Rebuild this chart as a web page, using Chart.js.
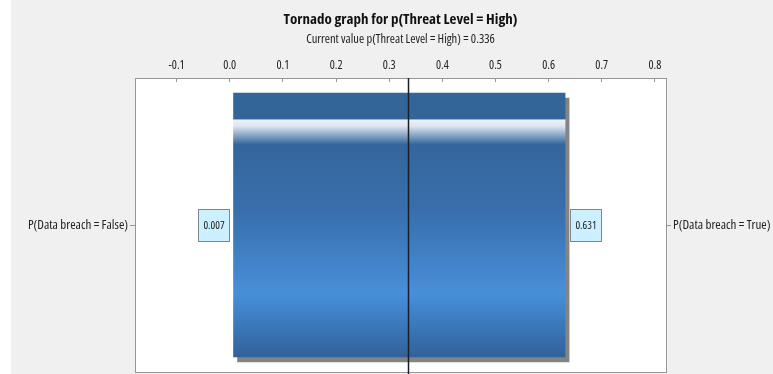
<!DOCTYPE html>
<html>
<head>
<meta charset="utf-8">
<script src="https://cdn.jsdelivr.net/npm/chart.js@4.4.1/dist/chart.umd.min.js"></script>
<style>
  html, body { margin: 0; padding: 0; background: #ffffff; }
  #wrap { position: absolute; left: 11px; top: 0; width: 762px; height: 374px; background: #f0f0f0; }
</style>
</head>
<body>
<div id="wrap"><canvas id="tornado" width="762" height="374"></canvas></div>
<script>
  "use strict";

  // Tornado data
  const categories = ["P(Data breach = False)"];
  const oppositeCategories = ["P(Data breach = True)"];
  const lowValues = [0.007];
  const highValues = [0.631];
  const currentValue = 0.336;
  const xTicks = [-0.1, 0.0, 0.1, 0.2, 0.3, 0.4, 0.5, 0.6, 0.7, 0.8];

  // condensed Open Sans via the CSS font shorthand (weight slot)
  const FAMILY = '"Open Sans", "Liberation Sans", sans-serif';
  Chart.defaults.font.family = FAMILY;
  Chart.defaults.font.weight = "condensed";
  Chart.defaults.color = "#222";

  const BAR_HEIGHT = 264;
  const GRAY = "rgb(150,150,150)";

  function barGradient(context) {
    const chart = context.chart;
    const yScale = chart.scales.y;
    if (!chart.chartArea || !yScale) {
      return "#336699";
    }
    const mid = yScale.getPixelForValue(context.dataIndex || 0);
    const top = mid - BAR_HEIGHT / 2;
    const g = chart.ctx.createLinearGradient(0, top, 0, top + BAR_HEIGHT);
    g.addColorStop(0, "rgb(52,101,152)");
    g.addColorStop(0.097, "rgb(52,101,152)");
    g.addColorStop(0.103, "rgb(236,241,247)");
    g.addColorStop(0.125, "rgb(222,230,240)");
    g.addColorStop(0.195, "rgb(52,102,156)");
    g.addColorStop(0.45, "rgb(56,111,172)");
    g.addColorStop(0.76, "rgb(72,143,218)");
    g.addColorStop(0.87, "rgb(60,122,190)");
    g.addColorStop(1, "rgb(50,97,152)");
    return g;
  }

  const plotFrame = {
    id: "plotFrame",
    beforeDraw(chart) {
      const { ctx, chartArea: a } = chart;
      ctx.save();
      ctx.fillStyle = "#ffffff";
      ctx.fillRect(a.left, a.top, a.right - a.left, a.bottom - a.top);
      ctx.restore();
    },
    afterDraw(chart) {
      const { ctx, chartArea: a } = chart;
      ctx.save();
      ctx.strokeStyle = GRAY;
      ctx.lineWidth = 1;
      ctx.beginPath();
      ctx.moveTo(a.left, a.bottom + 0.5);
      ctx.lineTo(a.right, a.bottom + 0.5);
      ctx.stroke();
      ctx.restore();
    },
  };

  const barShadow = {
    id: "barShadow",
    beforeDatasetsDraw(chart) {
      const ctx = chart.ctx;
      ctx.save();
      ctx.shadowColor = "rgba(125,125,125,0.95)";
      ctx.shadowOffsetX = 4;
      ctx.shadowOffsetY = 5;
      ctx.shadowBlur = 0;
    },
    afterDatasetsDraw(chart) {
      chart.ctx.restore();
    },
  };

  const currentLine = {
    id: "currentLine",
    afterDraw(chart) {
      const { ctx, chartArea: a } = chart;
      const x = Math.round(chart.scales.x.getPixelForValue(currentValue)) + 0.5;
      ctx.save();
      ctx.strokeStyle = "rgb(25,30,40)";
      ctx.lineWidth = 1.5;
      ctx.beginPath();
      ctx.moveTo(x, a.top);
      ctx.lineTo(x, chart.height);
      ctx.stroke();
      ctx.restore();
    },
  };

  const valueBoxes = {
    id: "valueBoxes",
    afterDraw(chart) {
      const { ctx } = chart;
      const xScale = chart.scales.x;
      const yScale = chart.scales.y;
      ctx.save();
      ctx.font = "condensed 11px " + FAMILY;
      ctx.textBaseline = "middle";
      ctx.textAlign = "center";
      categories.forEach((c, i) => {
        const cy = yScale.getPixelForValue(i);
        const w = 31;
        const h = 32;
        const boxes = [
          { v: lowValues[i], x: xScale.getPixelForValue(lowValues[i]) - 5 - w },
          { v: highValues[i], x: xScale.getPixelForValue(highValues[i]) + 5 },
        ];
        boxes.forEach((b) => {
          const left = Math.round(b.x) + 0.5;
          const top = Math.round(cy - h / 2) + 0.5;
          ctx.fillStyle = "rgb(204,240,255)";
          ctx.fillRect(left, top, w, h);
          ctx.strokeStyle = "rgb(125,135,145)";
          ctx.lineWidth = 1;
          ctx.strokeRect(left, top, w, h);
          ctx.fillStyle = "#222";
          ctx.fillText(b.v.toFixed(3), left + w / 2, top + h / 2);
        });
      });
      ctx.restore();
    },
  };

  function noVerticalPadding(scale) {
    scale.paddingTop = 0;
    scale.paddingBottom = 0;
  }

  new Chart(document.getElementById("tornado"), {
    type: "bar",
    data: {
      labels: categories,
      datasets: [
        {
          data: lowValues.map((lo, i) => [lo, highValues[i]]),
          backgroundColor: barGradient,
          borderWidth: 0,
          borderSkipped: false,
          barThickness: BAR_HEIGHT,
          yAxisID: "y",
        },
      ],
    },
    options: {
      indexAxis: "y",
      responsive: false,
      animation: false,
      devicePixelRatio: 1,
      layout: { padding: { left: 0, right: 0, top: 0, bottom: 2 } },
      plugins: {
        legend: { display: false },
        tooltip: { enabled: false },
        title: {
          display: true,
          fullSize: false,
          text: "Tornado graph for p(Threat Level = High)",
          color: "#111",
          font: { size: 15, weight: "bold condensed", lineHeight: 1.2 },
          padding: { top: 11, bottom: 0 },
        },
        subtitle: {
          display: true,
          fullSize: false,
          text: "Current value p(Threat Level = High) = " + currentValue.toFixed(3),
          color: "#222",
          font: { size: 12.5, weight: "condensed", lineHeight: 1.2 },
          padding: { top: 3, bottom: 0 },
        },
      },
      scales: {
        x: {
          type: "linear",
          position: "top",
          min: -0.1784,
          max: 0.8209,
          afterBuildTicks(scale) {
            scale.ticks = xTicks.map((v) => ({ value: v }));
          },
          afterFit(scale) {
            scale.height = 31;
          },
          ticks: {
            color: "#222",
            font: { size: 12 },
            padding: 9,
            maxRotation: 0,
            callback: (v) => Number(v).toFixed(1),
          },
          grid: {
            drawOnChartArea: false,
            drawTicks: true,
            tickLength: -4,
            color: GRAY,
          },
          border: { display: true, color: GRAY },
        },
        y: {
          type: "category",
          position: "left",
          labels: categories,
          afterFit(scale) {
            scale.width = 124;
            noVerticalPadding(scale);
          },
          ticks: { color: "#222", font: { size: 13 }, padding: 2 },
          grid: { drawOnChartArea: false, offset: false, tickLength: 5, color: GRAY },
          border: { display: true, color: GRAY },
        },
        yRight: {
          type: "category",
          position: "right",
          labels: oppositeCategories,
          afterFit(scale) {
            scale.width = 107;
            noVerticalPadding(scale);
          },
          ticks: { color: "#222", font: { size: 13 }, padding: 2 },
          grid: { drawOnChartArea: false, offset: false, tickLength: 5, color: GRAY },
          border: { display: true, color: GRAY },
        },
      },
    },
    plugins: [plotFrame, barShadow, currentLine, valueBoxes],
  });
</script>
</body>
</html>
